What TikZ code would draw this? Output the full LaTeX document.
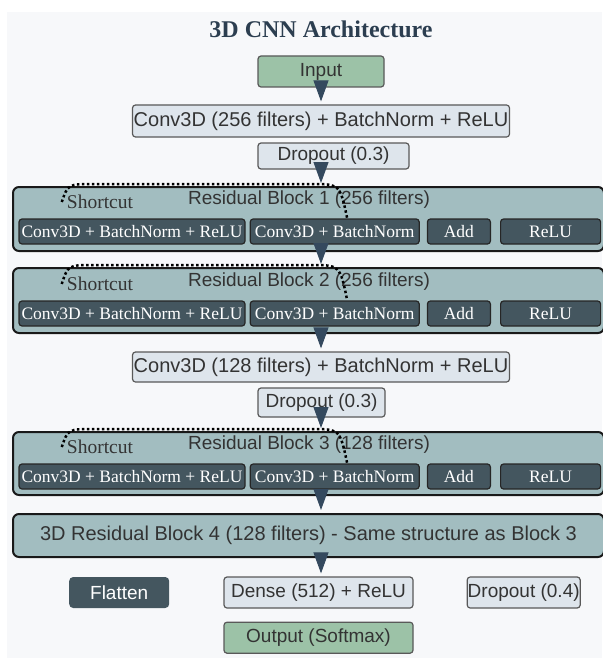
\documentclass[tikz,border=0pt]{standalone}
\usepackage{fontspec}
\setmainfont{Liberation Serif}
\setsansfont{Liberation Sans}
\usetikzlibrary{positioning,arrows.meta}

\definecolor{bgcol}{HTML}{F7F8FA}
\definecolor{greenbox}{HTML}{9CC2A7}
\definecolor{lightbox}{HTML}{DEE5EC}
\definecolor{resfill}{HTML}{A2BDC0}
\definecolor{darkbox}{HTML}{44565F}
\definecolor{arrowcol}{HTML}{34495E}
\definecolor{titlecol}{HTML}{2C3E50}

\begin{document}
\begin{tikzpicture}[x=1pt,y=-1pt,
  every node/.style={inner sep=0pt, text=black!80, font=\sffamily\fontsize{19}{22}\selectfont},
  plainbox/.style={draw=black!65, line width=1.2pt, rounded corners=3pt, fill=lightbox},
  iobox/.style={plainbox, fill=greenbox},
  flatbox/.style={fill=darkbox, rounded corners=4pt, text=white},
  resblock/.style={draw=black!90, line width=2pt, rounded corners=6pt, fill=resfill},
  sublayer/.style={draw=black!85, line width=1.2pt, rounded corners=3pt, fill=darkbox,
    text=white, minimum height=25pt, font=\rmfamily\fontsize{17.5}{20}\selectfont},
  shortlabel/.style={font=\rmfamily\fontsize{19.5}{22}\selectfont},
  flow/.style={arrowcol, line width=1pt, -{Triangle[length=21pt,width=15pt]}, shorten >=3pt},
  skipline/.style={black, line width=2.5pt, dash pattern=on 2.5pt off 2.5pt},
]
        \useasboundingbox (0,0) rectangle (602,658);
        \fill[bgcol] (7,12) rectangle (602,658);

        % Title and input stem
        \node[font=\rmfamily\bfseries\fontsize{24}{28}\selectfont, text=titlecol] (title) at (321,29) {3D CNN Architecture};
        \node[iobox, minimum width=126pt, minimum height=31pt] (in) at (321,71.5) {Input};
        \node[plainbox, minimum width=377pt, minimum height=32pt, font=\sffamily\fontsize{20}{22}\selectfont] (conv1) at (321,121) {Conv3D (256 filters) + BatchNorm + ReLU};
        \node[plainbox, minimum width=151pt, minimum height=26pt] (drop1) at (333.5,156) {Dropout (0.3)};

        % Residual block 1
        \node[resblock, minimum width=591pt, minimum height=64pt] (res1) at (308.5,219) {};
        \node (res1t) at (309,200) {Residual Block 1 (256 filters)};
        \node[shortlabel] (sc1) at (100,202) {Shortcut};
        \node[sublayer, minimum width=226pt] (r1a) at (132,231.5) {Conv3D + BatchNorm + ReLU};
        \node[sublayer, minimum width=169pt, right=4pt of r1a] (r1b) {Conv3D + BatchNorm};
        \node[sublayer, minimum width=63pt, right=7pt of r1b] (r1c) {Add};
        \node[sublayer, minimum width=100pt, right=9pt of r1c] (r1d) {ReLU};

        % Residual block 2
        \node[resblock, minimum width=591pt, minimum height=65pt] (res2) at (308.5,300.5) {};
        \node (res2t) at (309,282) {Residual Block 2 (256 filters)};
        \node[shortlabel] (sc2) at (100,284) {Shortcut};
        \node[sublayer, minimum width=226pt] (r2a) at (132,313.5) {Conv3D + BatchNorm + ReLU};
        \node[sublayer, minimum width=169pt, right=4pt of r2a] (r2b) {Conv3D + BatchNorm};
        \node[sublayer, minimum width=63pt, right=7pt of r2b] (r2c) {Add};
        \node[sublayer, minimum width=100pt, right=9pt of r2c] (r2d) {ReLU};

        \node[plainbox, minimum width=377pt, minimum height=30pt, font=\sffamily\fontsize{20}{22}\selectfont] (conv2) at (321,367) {Conv3D (128 filters) + BatchNorm + ReLU};
        \node[plainbox, minimum width=127pt, minimum height=29pt] (drop2) at (321.5,402.5) {Dropout (0.3)};

        % Residual block 3
        \node[resblock, minimum width=591pt, minimum height=63pt] (res3) at (308.5,463.5) {};
        \node (res3t) at (309,445) {Residual Block 3 (128 filters)};
        \node[shortlabel] (sc3) at (100,447) {Shortcut};
        \node[sublayer, minimum width=226pt] (r3a) at (132,476.5) {Conv3D + BatchNorm + ReLU};
        \node[sublayer, minimum width=169pt, right=4pt of r3a] (r3b) {Conv3D + BatchNorm};
        \node[sublayer, minimum width=63pt, right=7pt of r3b] (r3c) {Add};
        \node[sublayer, minimum width=100pt, right=9pt of r3c] (r3d) {ReLU};

        % Block 4 and the head
        \node[resblock, minimum width=591pt, minimum height=43pt, font=\sffamily\fontsize{20}{22}\selectfont] (res4) at (308.5,535.5) {3D Residual Block 4 (128 filters) - Same structure as Block 3};
        \node[plainbox, minimum width=189pt, minimum height=31pt] (dense) at (318.5,592.5) {Dense (512) + ReLU};
        \node[flatbox, minimum width=100pt, minimum height=31pt, left=54pt of dense] (flat) {Flatten};
        \node[plainbox, minimum width=113pt, minimum height=31pt, right=53pt of dense] (drop3) {Dropout (0.4)};
        \node[iobox, minimum width=189pt, minimum height=31pt, below=13pt of dense] (out) {Output (Softmax)};

        % Shortcut paths
        \draw[skipline] ([xshift=-5pt]sc1.west) .. controls (68,184) .. (95,184) -- (310,184) .. controls (340,184) .. ([xshift=12.5pt]r1b.north);
        \draw[skipline] ([xshift=-5pt]sc2.west) .. controls (68,265) .. (95,265) -- (310,265) .. controls (340,265) .. ([xshift=12.5pt]r2b.north);
        \draw[skipline] ([xshift=-5pt]sc3.west) .. controls (68,429) .. (95,429) -- (310,429) .. controls (340,429) .. ([xshift=12.5pt]r3b.north);

        % Connect the layers
        \draw[flow] (in) -- (conv1);
        \draw[flow] (drop1.south -| in) -- (res1.north -| in);
        \draw[flow] (res1.south -| in) -- (res2.north -| in);
        \draw[flow] (res2.south -| in) -- (conv2.north -| in);
        \draw[flow] (drop2.south -| in) -- (res3.north -| in);
        \draw[flow] (res3.south -| in) -- (res4.north -| in);
        \draw[flow] (res4.south -| in) -- (dense.north -| in);
\end{tikzpicture}
\end{document}
